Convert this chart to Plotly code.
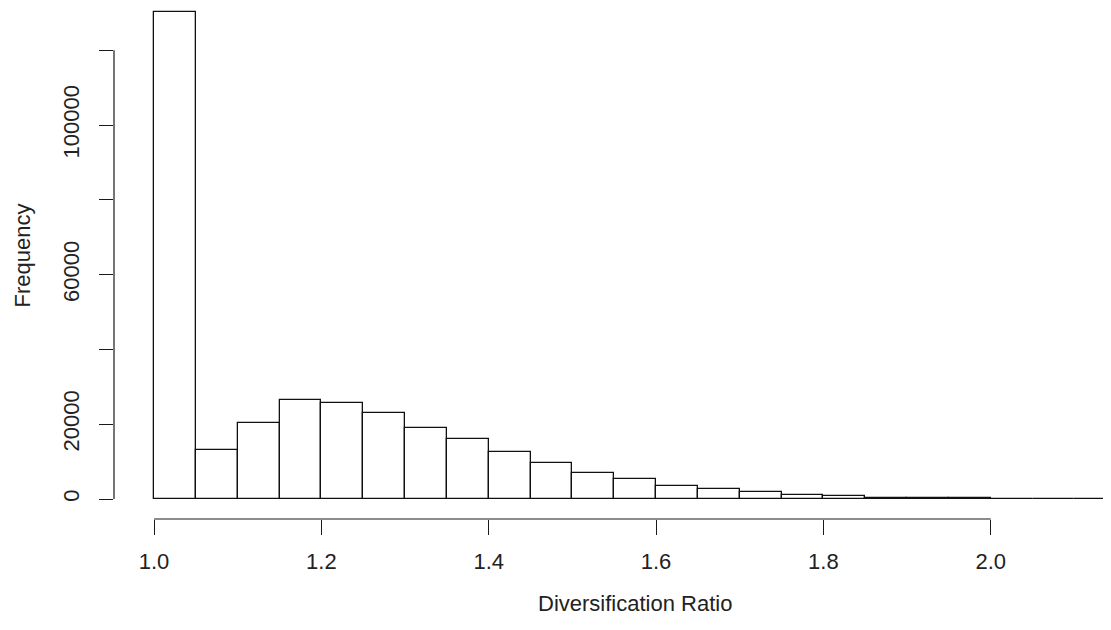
import plotly.graph_objects as go

# Histogram bins (left edges) and frequencies
bin_left = [1.00, 1.05, 1.10, 1.15, 1.20, 1.25, 1.30, 1.35, 1.40, 1.45,
            1.50, 1.55, 1.60, 1.65, 1.70, 1.75, 1.80, 1.85, 1.90, 1.95,
            2.00, 2.05, 2.10]
frequency = [130200, 13000, 20200, 26450, 25750, 23050, 18900, 15950, 12550, 9630,
             7030, 5430, 3560, 2750, 1870, 1150, 670, 330, 280, 240,
             15, 8, 3]
bin_width = 0.05

x_tick_vals = [1.0, 1.2, 1.4, 1.6, 1.8, 2.0]
x_tick_text = ["1.0", "1.2", "1.4", "1.6", "1.8", "2.0"]
y_tick_vals = [0, 20000, 40000, 60000, 80000, 100000, 120000]
y_tick_text = ["0", "20000", "", "60000", "", "100000", ""]

x_title = "Diversification Ratio"
y_title = "Frequency"

centers = [b + bin_width / 2 for b in bin_left]

FONT = "Liberation Sans, Arial, sans-serif"
FS = 22

fig = go.Figure()
fig.add_trace(go.Bar(
    x=centers, y=frequency, width=[bin_width] * len(centers),
    marker=dict(color="white", line=dict(color="#111111", width=1.3)),
    hoverinfo="x+y", showlegend=False,
))

# The page body adds an 8px offset; the figure is sized to compensate.
fig.update_layout(
    width=1103, height=622,
    margin=dict(l=106, r=0, t=0, b=111, pad=0),
    paper_bgcolor="white", plot_bgcolor="white",
    font=dict(family=FONT, size=FS, color="#222"),
    bargap=0,
    xaxis=dict(
        range=[0.95220, 2.14371], showgrid=False, zeroline=False, showline=False,
        automargin=False,
        tickmode="array", tickvals=x_tick_vals, ticktext=x_tick_text,
        ticks="outside", ticklen=15, tickwidth=1.2, tickcolor="#1a1a1a",
        tickfont=dict(size=FS, family=FONT, color="#222"),
        ticklabelstandoff=8,
    ),
    yaxis=dict(
        range=[-5348, 131293], showgrid=False, zeroline=False, showline=False,
        automargin=False,
        tickmode="array", tickvals=y_tick_vals, ticktext=y_tick_text,
        ticks="outside", ticklen=14, tickwidth=1.2, tickcolor="#1a1a1a",
        tickangle=-90,
        tickfont=dict(size=FS, family=FONT, color="#222"),
        ticklabelstandoff=11,
    ),
)

# R-style axis lines spanning only the tick range
fig.add_shape(type="line", xref="x", yref="paper", x0=x_tick_vals[0], x1=x_tick_vals[-1],
              y0=0, y1=0, line=dict(color="#1a1a1a", width=1.2))
fig.add_shape(type="line", xref="paper", yref="y", x0=0, x1=0,
              y0=y_tick_vals[0], y1=y_tick_vals[-1], line=dict(color="#1a1a1a", width=1.2))

# Axis titles (R centres them on the plot region)
fig.add_annotation(text=x_title, xref="x", yref="paper", x=(bin_left[0] + bin_left[-1] + bin_width) / 2,
                   y=0, yshift=-84, showarrow=False, xanchor="center", yanchor="middle",
                   font=dict(size=FS, family=FONT, color="#222"))
fig.add_annotation(text=y_title, xref="paper", yref="y", x=0, xshift=-91,
                   y=(130200 * 1.04 - 130200 * 0.04) / 2, showarrow=False, textangle=-90,
                   xanchor="center", yanchor="middle",
                   font=dict(size=FS, family=FONT, color="#222"))

fig.write_html("out.html")
